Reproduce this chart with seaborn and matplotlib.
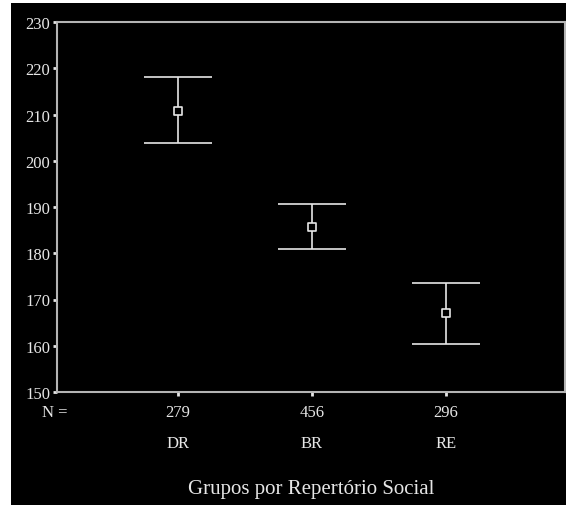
import seaborn as sns
import matplotlib.pyplot as plt
from matplotlib.patches import Rectangle
import pandas as pd

# data
groups = ["DR", "BR", "RE"]
n_values = [279, 456, 296]
means = [210.8, 185.7, 167.0]
lower = [203.9, 181.0, 160.4]
upper = [218.1, 190.7, 173.5]
y_ticks = [150, 160, 170, 180, 190, 200, 210, 220, 230]

df = pd.DataFrame({"pos": [1, 2, 3], "group": groups, "n": n_values,
                   "mean": means, "lo": lower, "hi": upper})

sns.set_theme(style="white")
plt.rcParams['font.family'] = ['Liberation Serif', 'DejaVu Serif']
fg = '#e6e6e6'
spine_c = '#b4b4b4'

fig = plt.figure(figsize=(5.66, 5.06), dpi=100, facecolor='white')
# black panel, with a thin white margin top and left as in the scan
fig.patches.append(Rectangle((11 / 566, 0), 1, 502 / 506, transform=fig.transFigure,
                             facecolor='black', edgecolor='none', zorder=-10))
ax = fig.add_axes([57 / 566, 1 - 393 / 506, 508 / 566, 370 / 506])
ax.set_facecolor('black')

ax.errorbar(df["pos"], df["mean"],
            yerr=[df["mean"] - df["lo"], df["hi"] - df["mean"]],
            fmt='none', ecolor=fg, elinewidth=1.2, capsize=24.5, capthick=1.2, zorder=2)
sns.scatterplot(data=df, x="pos", y="mean", marker='s', s=32, color='black',
                edgecolor=fg, linewidth=1.2, zorder=3, ax=ax, legend=False)

ax.set_xlim(0.097, 3.89)
ax.set_ylim(150, 230)
ax.set_yticks(y_ticks)
ax.set_xticks(df["pos"])
ax.set_xticklabels([f"{n}\n{g}" for n, g in zip(n_values, groups)], linespacing=2.2)
ax.tick_params(axis='both', colors=fg, labelcolor=fg, labelsize=12,
               length=3, width=2, direction='out', left=True, bottom=True)
ax.tick_params(axis='y', pad=2)
ax.tick_params(axis='x', pad=6)
for s in ax.spines.values():
    s.set_color(spine_c)
    s.set_linewidth(1.5)
ax.set_xlabel("")
ax.set_ylabel("")

fig.text(55 / 566, 1 - 413 / 506, "N =", color=fg, fontsize=12, ha='center', va='center')
fig.text(311 / 566, 16 / 506, "Grupos por Repertório Social", color=fg,
         fontsize=15, ha='center', va='center')

fig.savefig("out.png", dpi=100, facecolor=fig.get_facecolor())
